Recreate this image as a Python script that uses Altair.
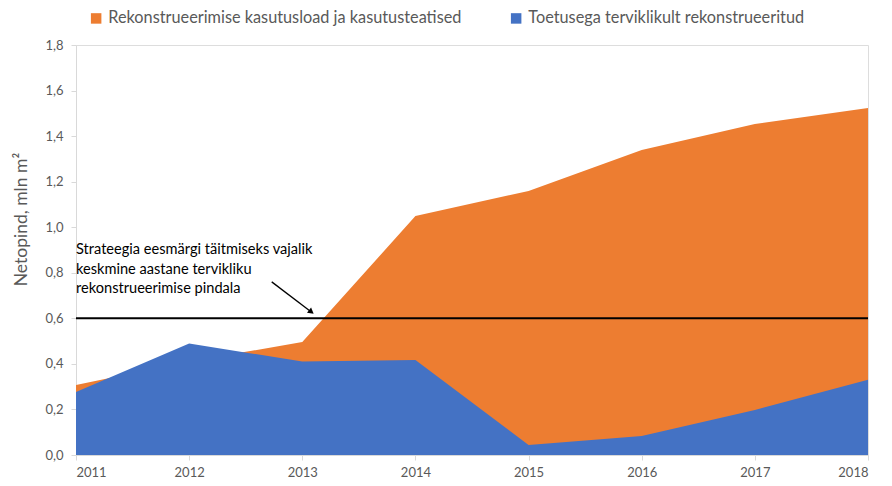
import altair as alt
import pandas as pd

years = [2011, 2012, 2013, 2014, 2015, 2016, 2017, 2018]
kasutusload = [0.307, 0.41, 0.496, 1.049, 1.159, 1.339, 1.453, 1.523]
toetusega = [0.277, 0.49, 0.41, 0.417, 0.044, 0.083, 0.198, 0.33]
series_names = ["Rekonstrueerimise kasutusload ja kasutusteatised",
                "Toetusega terviklikult rekonstrueeritud"]
series_colors = ["#ED7D31", "#4472C4"]
target_value = 0.6
note_lines = ["Strateegia eesmärgi täitmiseks vajalik",
              "keskmine aastane tervikliku",
              "rekonstrueerimise pindala"]
note_y = [0.9, 0.812, 0.728]
arrow_start = (2012.73, 0.76)
arrow_end = (2013.08, 0.628)

df_o = pd.DataFrame({"year": years, "value": kasutusload, "series": series_names[0]})
df_b = pd.DataFrame({"year": years, "value": toetusega, "series": series_names[1]})

FONT = "Lato"
GRAY = "#595959"

color = alt.Color("series:N",
    scale=alt.Scale(domain=series_names, range=series_colors),
    legend=alt.Legend(title=None, orient="none", direction="horizontal",
                      legendX=12, legendY=-35, symbolType="square", symbolSize=110,
                      symbolStrokeWidth=0, labelFontSize=16.3, labelColor=GRAY,
                      labelFont=FONT, columnPadding=46, labelLimit=600))

xenc = alt.X("year:Q", scale=alt.Scale(domain=[2011, 2018], nice=False),
    axis=alt.Axis(title=None, values=years, format="d", grid=False,
                  labelFontSize=13, labelColor=GRAY, labelFont=FONT,
                  domainColor="#D9D9D9", tickColor="#D9D9D9", tickSize=5,
                  labelPadding=6))
yenc = alt.Y("value:Q", scale=alt.Scale(domain=[0, 1.8], nice=False),
    axis=alt.Axis(title="Netopind, mln m²", values=[0, 0.2, 0.4, 0.6, 0.8, 1.0, 1.2, 1.4, 1.6, 1.8],
                  labelExpr="replace(format(datum.value, '.1f'), '.', ',')",
                  grid=False, labelFontSize=13, labelColor=GRAY, labelFont=FONT,
                  titleFontSize=17.5, titleColor=GRAY, titleFont=FONT, titleFontWeight="normal",
                  titlePadding=14, titleY=174, domainColor="#D9D9D9", tickColor="#D9D9D9", tickSize=5,
                  labelPadding=8))

area_o = alt.Chart(df_o).mark_area(opacity=1).encode(x=xenc, y=yenc, color=color)
area_b = alt.Chart(df_b).mark_area(opacity=1).encode(x="year:Q", y="value:Q", color=color)

rule = alt.Chart(pd.DataFrame({"x": [years[0]], "x2": [years[-1]], "y": [target_value]})).mark_rule(
    color="black", strokeWidth=2).encode(x="x:Q", x2="x2:Q", y="y:Q")

notes = alt.Chart(pd.DataFrame({"x": [years[0]] * 3, "y": note_y, "t": note_lines})).mark_text(
    align="left", baseline="middle", fontSize=14.6, font=FONT, color="black", dx=0).encode(
    x="x:Q", y="y:Q", text="t:N")

arrow_df = pd.DataFrame({"x": [arrow_start[0]], "y": [arrow_start[1]],
                         "x2": [arrow_end[0]], "y2": [arrow_end[1]]})
arrow_line = alt.Chart(arrow_df).mark_rule(color="black", strokeWidth=1.3).encode(
    x="x:Q", y="y:Q", x2="x2:Q", y2="y2:Q")
arrow_head = alt.Chart(pd.DataFrame({"x": [arrow_end[0]], "y": [arrow_end[1]]})).mark_point(
    shape="triangle-up", filled=True, color="black", size=45, angle=128, opacity=1).encode(
    x="x:Q", y="y:Q")

chart = alt.layer(area_o, area_b, rule, notes, arrow_line, arrow_head).properties(
    width=792, height=410,
    autosize=alt.AutoSizeParams(type="none"),
    padding={"left": 68, "top": 37, "right": 8, "bottom": 30},
).configure_view(stroke=None).configure(font=FONT)

chart.save("out.html", embed_options={"renderer": "svg", "actions": False})
